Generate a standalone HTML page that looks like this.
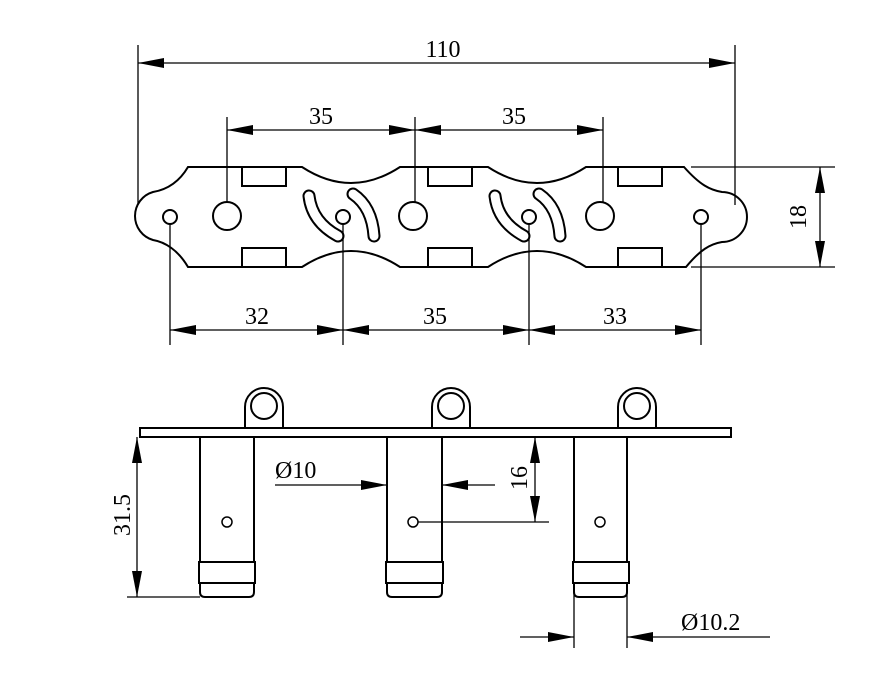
<!DOCTYPE html>
<html><head><meta charset="utf-8"><style>html,body{margin:0;padding:0;background:#fff}svg{display:block}</style></head>
<body>
<svg width="879" height="685" viewBox="0 0 879 685" xmlns="http://www.w3.org/2000/svg">
<defs>
<marker id="a" markerWidth="26" markerHeight="12" refX="26" refY="6" orient="auto-start-reverse" markerUnits="userSpaceOnUse">
<path d="M0,1 L26,6 L0,11 Z" fill="#000"/>
</marker>
</defs>
<g fill="none" stroke="#000" stroke-width="2">
<path d="M188,167 L302,167 Q351,199 400,167 L488,167 Q537,199 586,167 L684,167 C700,185 710,190 722,192 A25,25 0 0 1 722,242 C710,244 700,250 686,267 L586,267 Q537,235 488,267 L400,267 Q351,235 302,267 L188,267 C178,250 165,242 153,240 A25,25 0 0 1 153,192 C165,190 178,184 188,167 Z"/>
<rect x="242" y="167" width="44" height="19"/><rect x="242" y="248" width="44" height="19"/>
<rect x="428" y="167" width="44" height="19"/><rect x="428" y="248" width="44" height="19"/>
<rect x="618" y="167" width="44" height="19"/><rect x="618" y="248" width="44" height="19"/>
<circle cx="170" cy="217" r="7"/><circle cx="343" cy="217" r="7"/><circle cx="529" cy="217" r="7"/><circle cx="701" cy="217" r="7"/>
<circle cx="227" cy="216" r="14"/><circle cx="413" cy="216" r="14"/><circle cx="600" cy="216" r="14"/>
</g>
<g fill="none" stroke-linecap="round">
<path id="s1" d="M309,196 Q312,222 338,236" stroke="#000" stroke-width="13"/>
<path d="M309,196 Q312,222 338,236" stroke="#fff" stroke-width="9"/>
<path d="M353,194 Q372,207 374,236" stroke="#000" stroke-width="13"/>
<path d="M353,194 Q372,207 374,236" stroke="#fff" stroke-width="9"/>
<path d="M495,196 Q498,222 524,236" stroke="#000" stroke-width="13"/>
<path d="M495,196 Q498,222 524,236" stroke="#fff" stroke-width="9"/>
<path d="M539,194 Q558,207 560,236" stroke="#000" stroke-width="13"/>
<path d="M539,194 Q558,207 560,236" stroke="#fff" stroke-width="9"/>
</g>
<g fill="none" stroke="#000" stroke-width="1.3">
<line x1="138" y1="45" x2="138" y2="205"/><line x1="735" y1="45" x2="735" y2="205"/>
<line x1="138" y1="63" x2="735" y2="63" marker-start="url(#a)" marker-end="url(#a)"/>
<line x1="227" y1="117" x2="227" y2="202"/><line x1="415" y1="117" x2="415" y2="202"/><line x1="603" y1="117" x2="603" y2="202"/>
<line x1="227" y1="130" x2="415" y2="130" marker-start="url(#a)" marker-end="url(#a)"/>
<line x1="415" y1="130" x2="603" y2="130" marker-start="url(#a)" marker-end="url(#a)"/>
<line x1="170" y1="224" x2="170" y2="345"/><line x1="343" y1="224" x2="343" y2="345"/><line x1="529" y1="224" x2="529" y2="345"/><line x1="701" y1="224" x2="701" y2="345"/>
<line x1="170" y1="330" x2="343" y2="330" marker-start="url(#a)" marker-end="url(#a)"/>
<line x1="343" y1="330" x2="529" y2="330" marker-start="url(#a)" marker-end="url(#a)"/>
<line x1="529" y1="330" x2="701" y2="330" marker-start="url(#a)" marker-end="url(#a)"/>
<line x1="691" y1="167" x2="835" y2="167"/><line x1="691" y1="267" x2="835" y2="267"/>
<line x1="820" y1="167" x2="820" y2="267" marker-start="url(#a)" marker-end="url(#a)"/>
</g>
<g fill="none" stroke="#000" stroke-width="2">
<rect x="140" y="428" width="591" height="9"/>
<path d="M245,428 L245,407 A19,19 0 0 1 283,407 L283,428"/><circle cx="264" cy="406" r="13"/>
<path d="M432,428 L432,407 A19,19 0 0 1 470,407 L470,428"/><circle cx="451" cy="406" r="13"/>
<path d="M618,428 L618,407 A19,19 0 0 1 656,407 L656,428"/><circle cx="637" cy="406" r="13"/>
<path d="M200,437 L200,562 M254,437 L254,562"/>
<rect x="199" y="562" width="56" height="21"/>
<path d="M200,583 L200,592 Q200,597 205,597 L249,597 Q254,597 254,592 L254,583"/>
<path d="M387,437 L387,562 M442,437 L442,562"/>
<rect x="386" y="562" width="57" height="21"/>
<path d="M387,583 L387,592 Q387,597 392,597 L437,597 Q442,597 442,592 L442,583"/>
<path d="M574,437 L574,562 M627,437 L627,562"/>
<rect x="573" y="562" width="56" height="21"/>
<path d="M574,583 L574,592 Q574,597 579,597 L622,597 Q627,597 627,592 L627,583"/>
</g>
<g fill="none" stroke="#000" stroke-width="1.5">
<circle cx="227" cy="522" r="5"/><circle cx="413" cy="522" r="5"/><circle cx="600" cy="522" r="5"/>
</g>
<g fill="none" stroke="#000" stroke-width="1.3">
<line x1="127" y1="597" x2="200" y2="597"/>
<line x1="137" y1="437" x2="137" y2="597" marker-start="url(#a)" marker-end="url(#a)"/>
<line x1="275" y1="485" x2="387" y2="485" marker-end="url(#a)"/>
<line x1="495" y1="485" x2="442" y2="485" marker-end="url(#a)"/>
<line x1="418" y1="522" x2="549" y2="522"/>
<line x1="535" y1="437" x2="535" y2="522" marker-start="url(#a)" marker-end="url(#a)"/>
<line x1="574" y1="585" x2="574" y2="648"/><line x1="627" y1="585" x2="627" y2="648"/>
<line x1="520" y1="637" x2="574" y2="637" marker-end="url(#a)"/>
<line x1="770" y1="637" x2="627" y2="637" marker-end="url(#a)"/>
</g>
<g font-family="Liberation Serif, serif" font-size="24" fill="#000">
<text x="443" y="57" text-anchor="middle">110</text>
<text x="321" y="124" text-anchor="middle">35</text>
<text x="514" y="124" text-anchor="middle">35</text>
<text x="257" y="324" text-anchor="middle">32</text>
<text x="435" y="324" text-anchor="middle">35</text>
<text x="615" y="324" text-anchor="middle">33</text>
<text transform="translate(806,217) rotate(-90)" text-anchor="middle">18</text>
<text x="275" y="478">Ø10</text>
<text transform="translate(527,478) rotate(-90)" text-anchor="middle">16</text>
<text transform="translate(130,515) rotate(-90)" text-anchor="middle">31.5</text>
<text x="681" y="630">Ø10.2</text>
</g>
</svg>
</body></html>
